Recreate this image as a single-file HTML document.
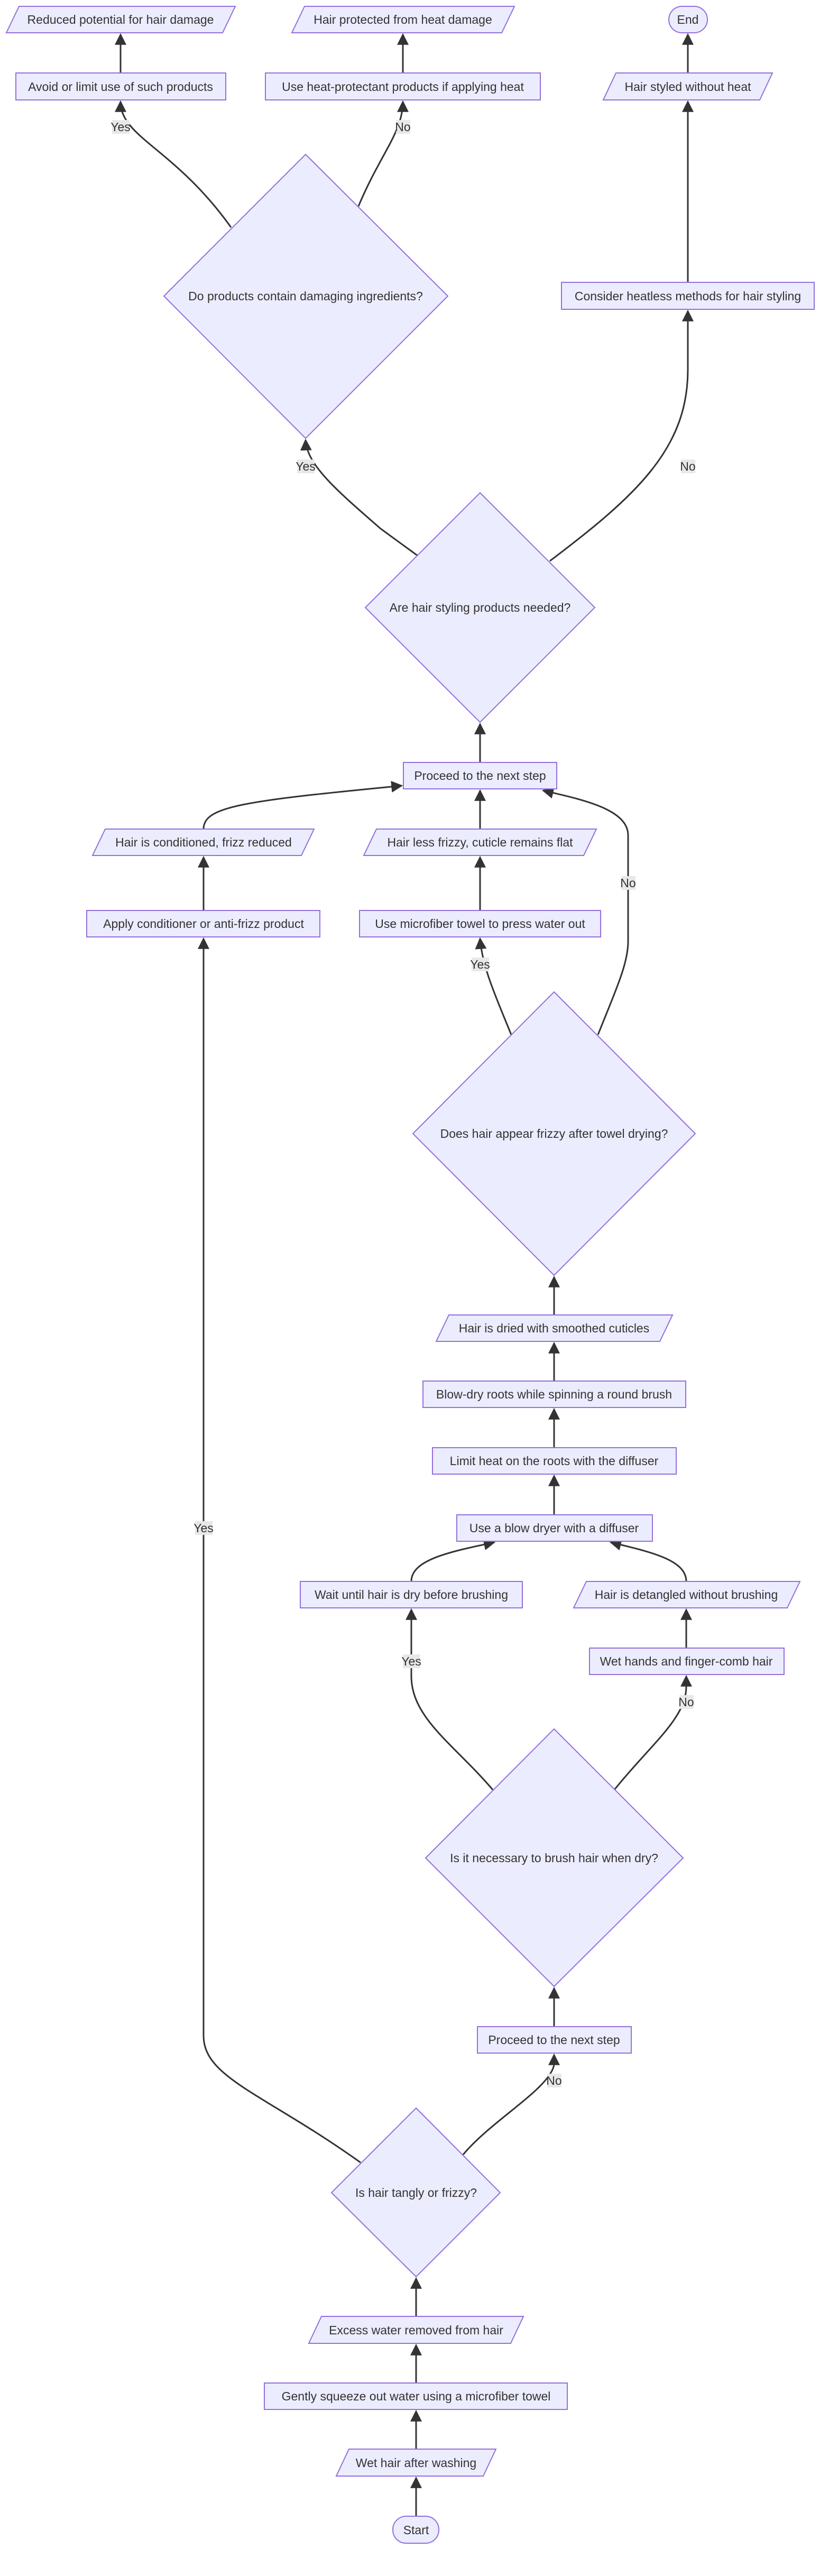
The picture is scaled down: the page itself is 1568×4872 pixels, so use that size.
<!DOCTYPE html>
<html><head><meta charset="utf-8"><style>
html,body{margin:0;padding:0;background:#fff;}
svg{display:block;}
text{font-family:"Liberation Sans",sans-serif;font-size:23px;fill:#333;text-anchor:middle;dominant-baseline:central;}
.n{fill:#ECECFF;stroke:#9370DB;stroke-width:2;}
.e{fill:none;stroke:#333;stroke-width:3;marker-end:url(#a);}
.lb{fill:#e8e8e8;stroke:none;}
</style></head><body>
<svg width="1568" height="4872" viewBox="0 0 1568 4872" xmlns="http://www.w3.org/2000/svg">
<defs>
<marker id="a" viewBox="0 0 10 10" refX="9" refY="5" markerWidth="22" markerHeight="22" markerUnits="userSpaceOnUse" orient="auto"><path d="M0,0 L10,5 L0,10 z" fill="#333"/></marker></defs>

<!-- edges -->
<path class="e" d="M787,4759 L787,4686"/>
<path class="e" d="M787,4632 L787,4560"/>
<path class="e" d="M787,4507 L787,4435"/>
<path class="e" d="M787,4381 L787,4309"/>
<path class="e" d="M876,4075 C930,4010 1040,3950 1048,3905 L1048,3886"/>
<path class="e" d="M682,4090 C500,3960 385,3930 385,3850 L385,1775"/>
<path class="e" d="M1048,3833 L1048,3760"/>
<path class="e" d="M932,3385 C860,3300 778,3250 778,3170 L778,3044"/>
<path class="e" d="M1162,3385 C1230,3300 1298,3250 1298,3190 L1298,3170"/>
<path class="e" d="M1298,3117 L1298,3044"/>
<path class="e" d="M778,2991 C778,2950 850,2935 935,2917"/>
<path class="e" d="M1298,2991 C1298,2950 1230,2935 1155,2917"/>
<path class="e" d="M1048,2865 L1048,2791"/>
<path class="e" d="M1048,2738 L1048,2665"/>
<path class="e" d="M1048,2612 L1048,2540"/>
<path class="e" d="M1048,2487 L1048,2415"/>
<path class="e" d="M967,1957 C940,1890 912,1830 908,1775"/>
<path class="e" d="M1131,1957 C1170,1860 1188,1820 1188,1780 L1188,1580 C1188,1530 1100,1512 1027,1495"/>
<path class="e" d="M908,1722 L908,1621"/>
<path class="e" d="M385,1722 L385,1621"/>
<path class="e" d="M908,1568 L908,1495"/>
<path class="e" d="M385,1568 C385,1525 460,1515 760,1486"/>
<path class="e" d="M908,1442 L908,1369"/>
<path class="e" d="M790,1051 L720,1000 C640,930 580,880 578,832"/>
<path class="e" d="M1040,1061 C1200,940 1301,850 1301,700 L1301,588"/>
<path class="e" d="M1301,534 L1301,192"/>
<path class="e" d="M1301,138 L1301,65"/>
<path class="e" d="M437,430 C330,280 228,260 228,192"/>
<path class="e" d="M678,390 C720,290 762,250 762,192"/>
<path class="e" d="M228,138 L228,65"/>
<path class="e" d="M762,138 L762,65"/>

<!-- labels -->
<rect class="lb" x="212" y="227" width="33" height="26"/><text x="228" y="240">Yes</text>
<rect class="lb" x="749" y="227" width="27" height="26"/><text x="762" y="240">No</text>
<rect class="lb" x="562" y="869" width="33" height="26"/><text x="578" y="882">Yes</text>
<rect class="lb" x="1288" y="869" width="27" height="26"/><text x="1301" y="882">No</text>
<rect class="lb" x="892" y="1811" width="33" height="26"/><text x="908" y="1824">Yes</text>
<rect class="lb" x="1175" y="1657" width="27" height="26"/><text x="1188" y="1670">No</text>
<rect class="lb" x="369" y="2877" width="33" height="26"/><text x="385" y="2890">Yes</text>
<rect class="lb" x="762" y="3129" width="33" height="26"/><text x="778" y="3142">Yes</text>
<rect class="lb" x="1285" y="3206" width="27" height="26"/><text x="1298" y="3219">No</text>
<rect class="lb" x="1035" y="3922" width="27" height="26"/><text x="1048" y="3935">No</text>

<!-- nodes -->
<polygon class="n" points="36,12 445,12 421,62 12,62"/><text x="228" y="37">Reduced potential for hair damage</text>
<polygon class="n" points="576,12 973,12 949,62 552,62"/><text x="762" y="37">Hair protected from heat damage</text>
<rect class="n" x="1265" y="12" width="73" height="50" rx="25"/><text x="1301" y="37">End</text>
<rect class="n" x="30" y="138" width="397" height="51"/><text x="228" y="164">Avoid or limit use of such products</text>
<rect class="n" x="502" y="138" width="520" height="51"/><text x="762" y="164">Use heat-protectant products if applying heat</text>
<polygon class="n" points="1165,138 1461,138 1437,189 1141,189"/><text x="1301" y="164">Hair styled without heat</text>
<polygon class="n" points="578,292 847,560 578,829 310,560"/><text x="578" y="560">Do products contain damaging ingredients?</text>
<rect class="n" x="1062" y="534" width="478" height="51"/><text x="1301" y="560">Consider heatless methods for hair styling</text>
<polygon class="n" points="908,932 1125,1149 908,1366 691,1149"/><text x="908" y="1149">Are hair styling products needed?</text>
<rect class="n" x="763" y="1442" width="290" height="50"/><text x="908" y="1467">Proceed to the next step</text>
<polygon class="n" points="199,1568 594,1568 570,1618 175,1618"/><text x="385" y="1593">Hair is conditioned, frizz reduced</text>
<polygon class="n" points="712,1568 1128,1568 1104,1618 688,1618"/><text x="908" y="1593">Hair less frizzy, cuticle remains flat</text>
<rect class="n" x="164" y="1722" width="441" height="50"/><text x="385" y="1747">Apply conditioner or anti-frizz product</text>
<rect class="n" x="680" y="1722" width="456" height="50"/><text x="908" y="1747">Use microfiber towel to press water out</text>
<polygon class="n" points="1048,1876 1315,2144 1048,2412 781,2144"/><text x="1048" y="2144">Does hair appear frizzy after towel drying?</text>
<polygon class="n" points="849,2487 1272,2487 1248,2537 825,2537"/><text x="1048" y="2512">Hair is dried with smoothed cuticles</text>
<rect class="n" x="800" y="2612" width="497" height="50"/><text x="1048" y="2637">Blow-dry roots while spinning a round brush</text>
<rect class="n" x="818" y="2738" width="461" height="50"/><text x="1048" y="2763">Limit heat on the roots with the diffuser</text>
<rect class="n" x="864" y="2865" width="370" height="50"/><text x="1048" y="2890">Use a blow dryer with a diffuser</text>
<rect class="n" x="568" y="2991" width="420" height="50"/><text x="778" y="3016">Wait until hair is dry before brushing</text>
<polygon class="n" points="1109,2991 1513,2991 1489,3041 1085,3041"/><text x="1298" y="3016">Hair is detangled without brushing</text>
<rect class="n" x="1115" y="3117" width="368" height="50"/><text x="1298" y="3142">Wet hands and finger-comb hair</text>
<polygon class="n" points="1048,3270 1292,3514 1048,3757 805,3514"/><text x="1048" y="3514">Is it necessary to brush hair when dry?</text>
<rect class="n" x="903" y="3833" width="291" height="50"/><text x="1048" y="3858">Proceed to the next step</text>
<polygon class="n" points="787,3987 946,4147 787,4306 627,4147"/><text x="787" y="4147">Is hair tangly or frizzy?</text>
<polygon class="n" points="608,4381 990,4381 966,4432 584,4432"/><text x="787" y="4407">Excess water removed from hair</text>
<rect class="n" x="500" y="4507" width="573" height="50"/><text x="787" y="4532">Gently squeeze out water using a microfiber towel</text>
<polygon class="n" points="660,4632 938,4632 914,4683 636,4683"/><text x="787" y="4658">Wet hair after washing</text>
<rect class="n" x="743" y="4759" width="87" height="51" rx="25"/><text x="787" y="4785">Start</text>
</svg>
</body></html>
